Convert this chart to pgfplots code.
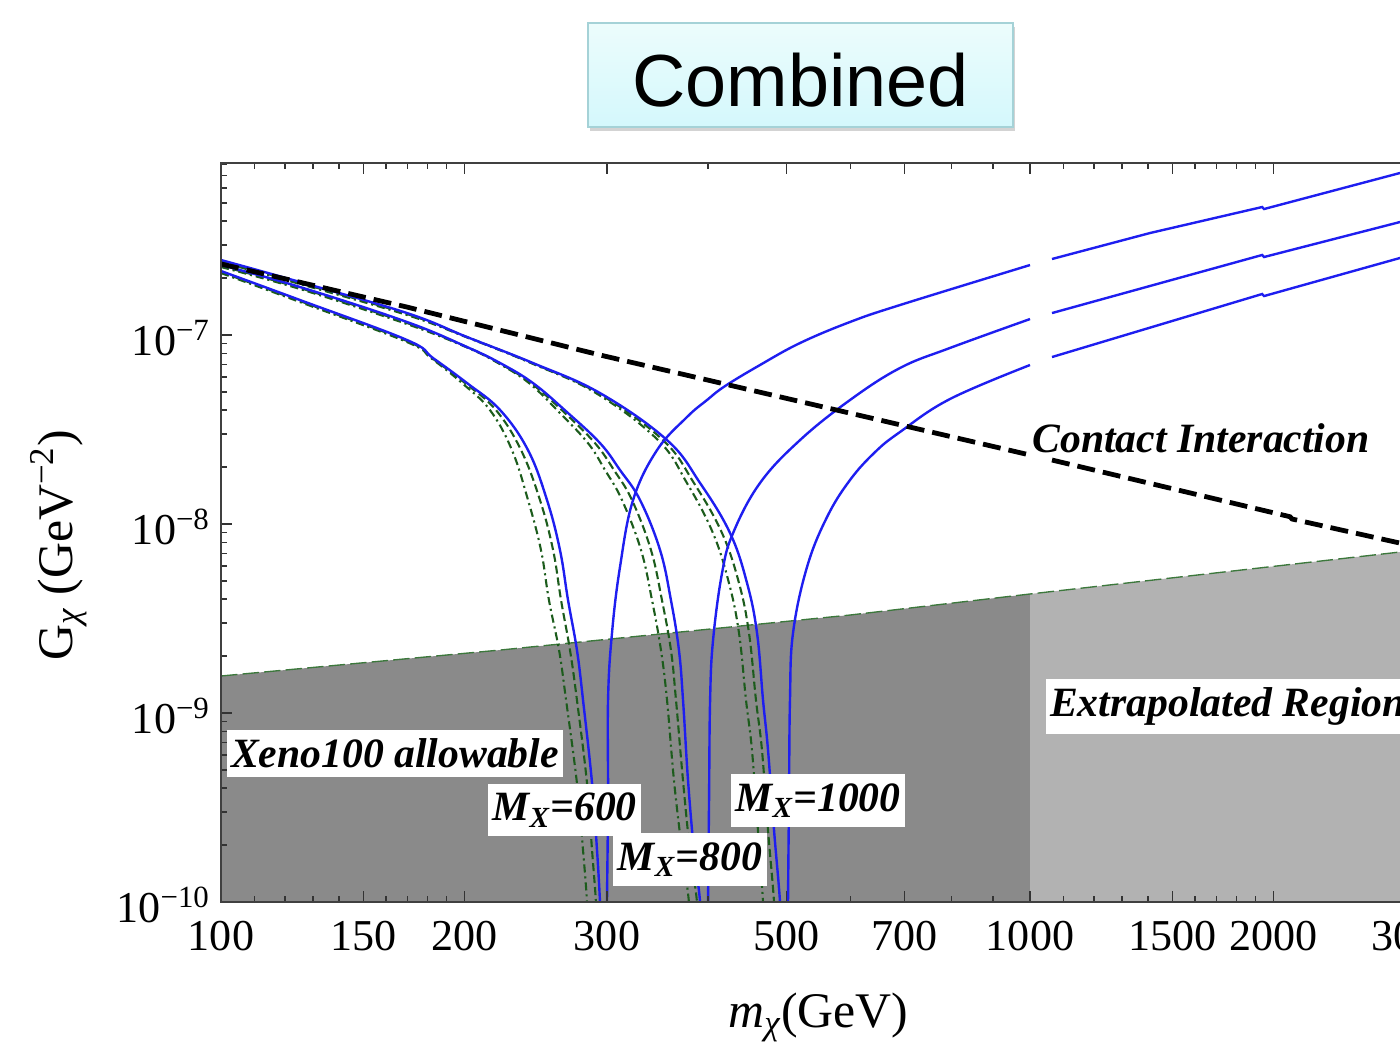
\documentclass[border=0pt]{standalone}
\usepackage{pgfplots}
\pgfplotsset{compat=1.18}
\usepackage{fontspec}
\setmainfont{Liberation Serif}
\newfontfamily\titlefont{Liberation Sans}
\usetikzlibrary{shadows}
\definecolor{gdark}{RGB}{138,138,138}
\definecolor{glight}{RGB}{178,178,178}
\definecolor{mgreen}{RGB}{28,92,28}
\definecolor{bgreen}{RGB}{60,120,60}
\definecolor{mblue}{RGB}{30,30,240}
\definecolor{tfillA}{RGB}{236,252,252}
\definecolor{tfillB}{RGB}{212,248,252}
\definecolor{tborder}{RGB}{165,210,215}
\begin{document}
\begin{tikzpicture}
\begin{axis}[
  at={(0,0)}, anchor=south west,
  scale only axis, width=398.33pt, height=246.33pt,
  xmode=log, ymode=log,
  xmin=100, xmax=3000, ymin=1e-10, ymax=8.13e-7,
  axis on top,
  axis line style={draw=black!75, line width=0.6pt},
  xtick={100,150,200,300,500,700,1000,1500,2000,3000},
  xticklabels={100,150,200,300,500,700,1000,1500,2000,3000},
  minor xtick={110,120,130,140,160,170,180,190,400,600,800,900,1100,1200,1300,1400,1600,1700,1800,1900},
  ytick={1e-10,1e-9,1e-8,1e-7},
  yticklabels={10\textsuperscript{−10},10\textsuperscript{−9},10\textsuperscript{−8},10\textsuperscript{−7}},
  minor ytick={2e-10,3e-10,4e-10,5e-10,6e-10,7e-10,8e-10,9e-10,2e-9,3e-9,4e-9,5e-9,6e-9,7e-9,8e-9,9e-9,2e-8,3e-8,4e-8,5e-8,6e-8,7e-8,8e-8,9e-8,2e-7,3e-7,4e-7,5e-7,6e-7,7e-7,8e-7},
  tick align=inside,
  major tick length=3.6pt, minor tick length=2pt,
  tick style={black!80, line width=0.5pt},
  tick label style={font=\fontsize{14.7}{16}\selectfont},
  xticklabel style={yshift=-3pt},
  yticklabel style={yshift=-1pt},
  label style={font=\fontsize{16.6}{19}\selectfont},
  xlabel={\textit{m}\textsubscript{\itshape χ}(GeV)},
  ylabel={G\textsubscript{\itshape χ} (GeV\textsuperscript{−2})},
  xlabel style={at={(axis description cs:0.5,-0.1692)}, anchor=base},
  ylabel style={at={(axis description cs:-0.1247,0.483)}, anchor=base},
]
% shaded regions
\addplot[fill=gdark, draw=none] coordinates {(100,1e-10) (100,1.570e-9) (221.3,2.154e-9) (599.1,3.30e-9) (1000,4.264e-9) (1000,1e-10)} -- cycle;
\addplot[fill=glight, draw=none] coordinates {(1000,1e-10) (1000,4.264e-9) (2866,7.11e-9) (3000,7.27e-9) (3000,1e-10)} -- cycle;
\addplot[bgreen, line width=0.45pt, dash pattern=on 5.5pt off 1.7pt] coordinates {(100,1.570e-9) (221.3,2.154e-9) (599.1,3.30e-9) (1000,4.264e-9) (2866,7.11e-9) (3000,7.27e-9)};

% green dash-dot and dashed curves
\pgfplotsset{gdd/.style={mgreen, line width=0.7pt, smooth, tension=0.65, dash pattern=on 2.7pt off 1.3pt on 0.7pt off 1.3pt},
             gda/.style={mgreen, line width=0.7pt, smooth, tension=0.65, dash pattern=on 2.7pt off 1.3pt}}
\addplot[gdd] coordinates {(100,2.128e-7) (125.2,1.495e-7) (169.8,9.18e-8) (181.8,7.55e-8) (198.6,5.57e-8) (215.0,4.01e-8) (228.9,2.46e-8) (239.6,1.339e-8) (248.6,7.29e-9) (254.3,3.96e-9) (261.7,2.154e-9) (267.0,1.172e-9) (275.4,4.26e-10) (280.2,1.88e-10) (283.4,1e-10) (285.0,5.57e-11)};
\addplot[gda] coordinates {(100,2.154e-7) (125.2,1.513e-7) (169.8,9.30e-8) (182.3,7.55e-8) (200.3,5.57e-8) (218.7,4.01e-8) (234.9,2.46e-8) (247.9,1.339e-8) (257.3,7.29e-9) (263.2,3.96e-9) (270.0,2.154e-9) (275.4,1.172e-9) (283.4,4.26e-10) (287.5,1.88e-10) (290.7,1e-10) (292.4,5.57e-11)};
\addplot[gdd] coordinates {(100,2.290e-7) (125.2,1.752e-7) (169.8,1.143e-7) (200.8,8.64e-8) (220.0,7.11e-8) (240.3,5.57e-8) (261.7,3.91e-8) (284.2,2.68e-8) (298.3,1.931e-8) (313.1,1.339e-8) (330.5,7.29e-9) (341.0,3.96e-9) (349.8,2.154e-9) (355.9,1.172e-9) (363.0,4.42e-10) (371.4,1.88e-10) (378.8,1e-10) (381.0,5.57e-11)};
\addplot[gda] coordinates {(100,2.318e-7) (125.2,1.773e-7) (169.8,1.158e-7) (201.4,8.64e-8) (220.6,7.11e-8) (241.6,5.57e-8) (265.4,3.91e-8) (289.9,2.68e-8) (306.0,1.931e-8) (322.1,1.339e-8) (340.0,7.29e-9) (350.8,3.96e-9) (359.9,2.154e-9) (365.1,1.172e-9) (372.4,4.42e-10) (379.9,1.88e-10) (387.6,1e-10) (389.8,5.57e-11)};
\addplot[gdd] coordinates {(100,2.434e-7) (125.2,1.862e-7) (169.8,1.276e-7) (200.8,9.76e-8) (241.6,7.11e-8) (290.7,4.93e-8) (346.9,2.78e-8) (376.7,1.648e-8) (405.6,8.96e-9) (424.5,4.87e-9) (436.8,2.65e-9) (445.6,1.172e-9) (453.2,6.37e-10) (461.0,2.40e-10) (467.7,1e-10) (470.3,5.57e-11)};
\addplot[gda] coordinates {(100,2.463e-7) (125.2,1.885e-7) (169.8,1.292e-7) (201.4,9.76e-8) (242.3,7.11e-8) (292.4,4.93e-8) (351.8,2.78e-8) (384.3,1.648e-8) (416.2,8.96e-9) (436.8,4.87e-9) (449.4,2.65e-9) (458.4,1.172e-9) (466.3,6.37e-10) (474.4,2.40e-10) (482.6,1e-10) (485.3,5.57e-11)};

% blue curves
\pgfplotsset{bl/.style={mblue, line width=0.8pt, smooth, tension=0.65}}
% M_X = 600
\addplot[bl] coordinates {(100,2.181e-7) (125.2,1.532e-7) (169.8,9.41e-8) (182.9,7.55e-8) (201.4,5.57e-8) (221.3,4.01e-8) (239.6,2.46e-8) (252.9,1.339e-8) (262.4,7.29e-9) (268.5,3.96e-9) (275.4,2.154e-9) (280.2,1.172e-9) (287.5,4.26e-10) (291.6,1.88e-10) (294.1,1e-10) (295.8,5.57e-11)};
\addplot[bl] coordinates {(300.0,5.57e-11) (300.0,1e-10) (300.9,3.46e-10) (300.9,1.172e-9) (304.3,2.65e-9) (311.3,5.92e-9) (323.1,1.339e-8) (345.9,2.46e-8) (376.7,3.68e-8) (398.8,4.53e-8) (419.8,5.37e-8) (463.7,6.94e-8) (519.6,9.07e-8) (599.1,1.172e-7) (690.7,1.441e-7) (1000,2.346e-7)};
\addplot[mblue, line width=0.8pt] coordinates {(1064.6,2.525e-7) (1407,3.465e-7) (1936,4.756e-7) (1946.8,4.642e-7) (2866,7.20e-7) (3000,7.57e-7)};
% M_X = 800
\addplot[bl] coordinates {(100,2.346e-7) (125.2,1.795e-7) (169.8,1.172e-7) (201.4,8.64e-8) (221.3,7.11e-8) (243.0,5.57e-8) (267.7,3.91e-8) (294.1,2.68e-8) (311.3,1.931e-8) (329.6,1.339e-8) (348.9,7.29e-9) (359.9,3.96e-9) (368.2,2.154e-9) (372.5,1.172e-9) (377.8,4.42e-10) (384.3,1.88e-10) (391.0,1e-10) (393.1,5.57e-11)};
\addplot[bl] coordinates {(400.0,5.57e-11) (400.0,1e-10) (401.1,3.46e-10) (402.3,1.172e-9) (405.7,2.43e-9) (416.2,5.50e-9) (429.5,8.96e-9) (463.7,1.648e-8) (519.6,2.78e-8) (599.1,4.53e-8) (690.7,6.69e-8) (796.3,8.54e-8) (1000,1.215e-7)};
\addplot[mblue, line width=0.8pt] coordinates {(1064.6,1.307e-7) (1936,2.651e-7) (1946.8,2.587e-7) (2866,3.962e-7) (3000,4.17e-7)};
% M_X = 1000
\addplot[bl] coordinates {(100,2.494e-7) (125.2,1.908e-7) (169.8,1.307e-7) (201.4,9.76e-8) (243.0,7.11e-8) (294.1,4.93e-8) (355.9,2.78e-8) (391.0,1.648e-8) (425.8,8.96e-9) (446.9,4.87e-9) (459.8,2.65e-9) (467.7,1.172e-9) (474.4,6.37e-10) (482.6,2.40e-10) (490.9,1e-10) (493.7,5.57e-11)};
\addplot[bl] coordinates {(502.2,5.57e-11) (502.2,1e-10) (503.6,3.46e-10) (505.0,1.172e-9) (509.4,2.65e-9) (530.1,5.92e-9) (561.2,1.089e-8) (599.1,1.709e-8) (643.5,2.404e-8) (690.7,3.067e-8) (796.3,4.585e-8) (1000,6.94e-8)};
\addplot[mblue, line width=0.8pt] coordinates {(1064.6,7.65e-8) (1936,1.648e-7) (1946.8,1.608e-7) (2866,2.556e-7) (3000,2.70e-7)};

% contact interaction
\addplot[black, line width=1.6pt, dash pattern=on 6pt off 2.7pt] coordinates {(100,2.376e-7) (169.8,1.406e-7) (294.1,7.84e-8) (1000,2.318e-8)};
\addplot[black, line width=1.6pt, dash pattern=on 6pt off 2.7pt] coordinates {(1064.6,2.181e-8) (2096,1.093e-8) (2108,1.063e-8) (2866,7.93e-9) (3000,7.60e-9)};

% labels
\tikzset{lab/.style={fill=white, inner xsep=1.5pt, inner ysep=3pt, font=\fontsize{13.9}{16}\selectfont\bfseries\itshape}}
\node[lab, anchor=base, inner ysep=1pt] at (axis cs:1627,2.405e-8) {Contact Interaction};
\node[lab, anchor=west] at (axis cs:1043.6,1.082e-9) {Extrapolated Region};
\node[lab, anchor=west] at (axis cs:101.4,6.10e-10) {Xeno100 allowable};
\node[lab] at (axis cs:265.9,3.067e-10) {M\textsubscript{X}=600};
\node[lab] at (axis cs:379.9,1.679e-10) {M\textsubscript{X}=800};
\node[lab] at (axis cs:547.0,3.443e-10) {M\textsubscript{X}=1000};
\end{axis}
\node[draw=tborder, line width=0.6pt, top color=tfillA, bottom color=tfillB,
      minimum width=141.7pt, minimum height=34.7pt, inner sep=0pt,
      drop shadow={shadow xshift=0.7pt, shadow yshift=-1.3pt, opacity=0.35}]
      at (193.2pt,275.67pt) {};
\node[font=\titlefont\fontsize{24.6}{28}\selectfont, inner sep=0pt] at (193.2pt,274.0pt) {Combined};
\pgfresetboundingbox
\useasboundingbox (-73.67pt,-47pt) rectangle (393pt,300.67pt);
\end{tikzpicture}
\end{document}
